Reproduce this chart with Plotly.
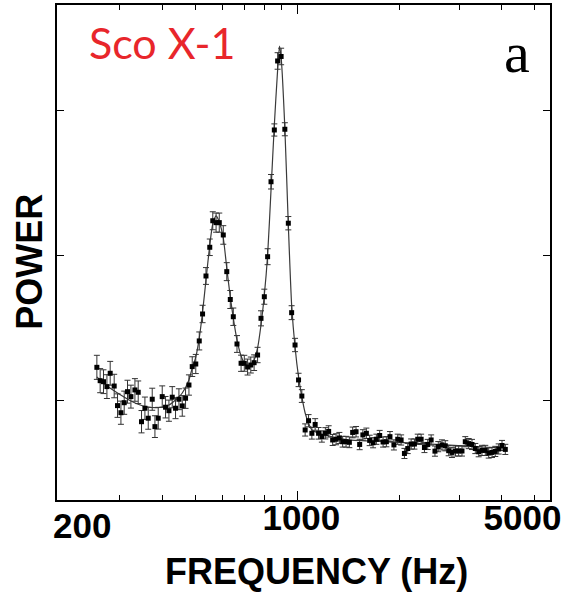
import math
import plotly.graph_objects as go

# ---- data ----
freq_hz = [256.5, 262.3, 268.3, 274.6, 280.8, 288.5, 295.1, 302.0, 308.8, 315.8,
           323.2, 332.1, 339.6, 347.3, 355.4, 363.5, 373.5, 380.4, 389.0, 399.7,
           408.8, 418.3, 427.8, 437.5, 447.7, 457.9, 468.3, 479.2, 490.0, 501.9,
           513.9, 525.6, 537.9, 551.9, 563.3, 576.1, 588.7, 604.9, 619.4, 634.4,
           647.5, 663.9, 682.6, 697.7, 713.4, 729.1, 745.7, 763.5, 781.4, 799.2,
           817.3, 836.4, 855.4, 874.7, 895.8, 918.6, 940.6, 962.0, 984.5, 1008.2,
           1031.0, 1054.4, 1079.0, 1103.5, 1128.5, 1154.9, 1181.0, 1209.4, 1236.8, 1270.8,
           1300.5, 1329.9, 1360.0, 1391.8, 1423.3, 1455.6, 1489.6, 1526.5, 1560.0, 1597.5,
           1633.7, 1671.8, 1709.7, 1748.5, 1789.3, 1829.8, 1874.9, 1926.0, 1976.4, 2022.6,
           2068.3, 2115.4, 2164.5, 2213.6, 2263.9, 2316.8, 2369.4, 2422.7, 2479.6, 2544.6,
           2602.3, 2668.4, 2728.9, 2792.7, 2855.8, 2924.6, 2988.9, 3056.7, 3126.0, 3199.0,
           3271.7, 3345.7, 3423.5, 3501.0, 3580.6, 3664.2, 3747.3, 3831.8, 3921.3, 4010.9,
           4101.6]

power = [1.232, 1.140, 1.133, 1.099, 1.191, 1.103, 0.968, 0.919, 0.988, 1.064,
         1.030, 1.076, 1.060, 0.857, 0.950, 0.881, 1.012, 0.823, 0.881, 1.030,
         0.957, 0.933, 1.026, 0.950, 1.012, 0.966, 1.019, 1.110, 1.237, 1.255,
         1.414, 1.600, 1.862, 2.060, 2.243, 2.230, 2.230, 2.145, 1.892, 1.700,
         1.581, 1.393, 1.260, 1.260, 1.234, 1.248, 1.264, 1.317, 1.570, 1.719,
         1.995, 2.512, 2.869, 3.345, 3.376, 2.874, 2.226, 1.609, 1.386, 1.145,
         1.034, 0.800, 0.864, 0.777, 0.838, 0.777, 0.755, 0.777, 0.790, 0.731,
         0.736, 0.745, 0.719, 0.719, 0.715, 0.783, 0.788, 0.700, 0.766, 0.777,
         0.728, 0.712, 0.736, 0.762, 0.717, 0.719, 0.754, 0.697, 0.736, 0.731,
         0.638, 0.672, 0.703, 0.703, 0.736, 0.736, 0.679, 0.700, 0.731, 0.654,
         0.685, 0.697, 0.691, 0.657, 0.645, 0.655, 0.655, 0.655, 0.719, 0.706,
         0.700, 0.672, 0.650, 0.659, 0.659, 0.641, 0.645, 0.652, 0.669, 0.693,
         0.666]

power_err = [0.083, 0.083, 0.082, 0.082, 0.082, 0.081, 0.081, 0.080, 0.080, 0.079,
             0.079, 0.078, 0.078, 0.077, 0.077, 0.076, 0.076, 0.075, 0.075, 0.074,
             0.074, 0.073, 0.073, 0.072, 0.072, 0.071, 0.070, 0.070, 0.068, 0.066,
             0.062, 0.060, 0.058, 0.057, 0.062, 0.066, 0.066, 0.064, 0.062, 0.062,
             0.060, 0.058, 0.056, 0.055, 0.055, 0.055, 0.054, 0.053, 0.052, 0.052,
             0.055, 0.050, 0.042, 0.057, 0.057, 0.045, 0.046, 0.048, 0.046, 0.046,
             0.044, 0.042, 0.042, 0.040, 0.040, 0.040, 0.039, 0.039, 0.039, 0.038,
             0.038, 0.038, 0.037, 0.037, 0.037, 0.037, 0.036, 0.036, 0.036, 0.036,
             0.036, 0.035, 0.035, 0.035, 0.035, 0.035, 0.035, 0.035, 0.035, 0.035,
             0.035, 0.035, 0.035, 0.035, 0.035, 0.035, 0.035, 0.035, 0.035, 0.035,
             0.035, 0.035, 0.035, 0.035, 0.035, 0.035, 0.035, 0.035, 0.035, 0.035,
             0.035, 0.035, 0.035, 0.035, 0.035, 0.035, 0.035, 0.035, 0.035, 0.035,
             0.035]

fit_freq_hz = [256.5, 274.6, 295.1, 323.2, 356.1, 391.7, 418.3, 437.5, 457.9, 479.2,
               490.0, 501.9, 513.9, 525.6, 537.9, 551.9, 563.3, 576.1, 588.7, 604.9,
               619.4, 634.4, 647.5, 663.9, 682.6, 697.7, 713.4, 729.1, 745.7, 763.5,
               781.4, 799.2, 817.3, 836.4, 855.4, 874.7, 886.0, 897.0, 918.6, 940.6,
               962.0, 984.5, 1008.2, 1031.0, 1054.4, 1079.0, 1103.5, 1181.0, 1391.8, 1748.5,
               2729.0, 4101.6]
fit_power = [1.166, 1.103, 1.055, 1.000, 0.962, 0.955, 0.972, 1.007, 1.055, 1.145,
             1.228, 1.303, 1.434, 1.614, 1.834, 2.076, 2.221, 2.276, 2.234, 2.124,
             1.917, 1.717, 1.572, 1.421, 1.310, 1.262, 1.241, 1.248, 1.283, 1.366,
             1.524, 1.731, 2.007, 2.455, 2.903, 3.283, 3.448, 3.352, 2.883, 2.214,
             1.662, 1.372, 1.166, 1.028, 0.917, 0.848, 0.800, 0.772, 0.734, 0.721,
             0.697, 0.674]

x_tick_vals = [200, 1000, 5000]
x_tick_text = ["200", "1000", "5000"]
x_tick_shift = [22, 4, -12]          # label offsets seen in the reference (px)
x_minor_vals = [300, 400, 500, 600, 700, 800, 900, 2000, 3000, 4000, 5000]
y_tick_vals = [1, 2, 3]
x_range_hz = [195.7, 5555]
y_range = [0.317, 3.731]

# ---- figure ----
fig = go.Figure()

fig.add_trace(go.Scatter(
    x=fit_freq_hz, y=fit_power, mode="lines",
    line=dict(color="#3a3a3a", width=1.2, shape="spline", smoothing=0.6),
    hoverinfo="skip", showlegend=False))

fig.add_trace(go.Scatter(
    x=freq_hz, y=power, mode="markers",
    marker=dict(symbol="square", size=5, color="black"),
    error_y=dict(type="data", array=power_err, color="#333333",
                 thickness=1, width=3),
    showlegend=False))

xr = [math.log10(v) for v in x_range_hz]

axis_font = dict(family="Liberation Sans, Arial, sans-serif", size=35,
                 color="black", weight="bold")
title_font = dict(family="Liberation Sans, Arial, sans-serif", size=36,
                  color="black", weight="bold")

layout_axes = {}
# one overlaid bottom axis per tick label so each label can sit where the reference shows it
for i, (tv, tt, sh) in enumerate(zip(x_tick_vals, x_tick_text, x_tick_shift)):
    name = "xaxis" if i == 0 else f"xaxis{i + 1}"
    ax = dict(
        type="log", range=xr, automargin=False, side="bottom",
        tickmode="array", tickvals=[tv], ticktext=[tt],
        ticklabelshift=sh, ticklabelstandoff=-6, ticklabeloverflow="allow",
        ticks="inside", ticklen=(9 if tv == 1000 else 0), tickwidth=1,
        tickcolor="black", showgrid=False, zeroline=False,
        tickfont=axis_font,
    )
    if i == 0:
        ax.update(
            showline=True, linecolor="black", linewidth=1.5, mirror="ticks",
            minor=dict(tickmode="array", tickvals=x_minor_vals, ticks="inside",
                       ticklen=5, tickwidth=1, tickcolor="black", showgrid=False),
        )
    else:
        ax.update(overlaying="x", showline=False, mirror="ticks")
        fig.add_trace(go.Scatter(x=[tv], y=[None], xaxis=f"x{i + 1}", yaxis="y",
                                 showlegend=False, hoverinfo="skip"))
    layout_axes[name] = ax

fig.update_layout(
    width=571, height=595,
    margin=dict(l=57, r=21, t=5, b=95),
    paper_bgcolor="white", plot_bgcolor="white",
    yaxis=dict(
        range=y_range, automargin=False,
        tickmode="array", tickvals=y_tick_vals,
        showticklabels=False,
        ticks="inside", ticklen=7, tickwidth=1, tickcolor="black",
        showline=True, linecolor="black", linewidth=1.5, mirror="ticks",
        showgrid=False, zeroline=False,
    ),
    annotations=[
        dict(text="FREQUENCY (Hz)", xref="paper", yref="paper", x=0.527, y=-0.145,
             xanchor="center", yanchor="middle", showarrow=False, font=title_font),
        dict(text="POWER", xref="paper", yref="paper", x=-0.055, y=0.481,
             xanchor="center", yanchor="middle", textangle=-90, showarrow=False,
             font=title_font),
        dict(text="Sco X-1", xref="paper", yref="paper", x=0.215, y=0.924,
             xanchor="center", yanchor="middle", showarrow=False,
             font=dict(family="Lato, sans-serif", size=43, color="#e8262b")),
        dict(text="a", xref="paper", yref="paper", x=0.934, y=0.905,
             xanchor="center", yanchor="middle", showarrow=False,
             font=dict(family="Liberation Serif, serif", size=58, color="black")),
    ],
    **layout_axes,
)

fig.write_html("out.html",
               config={"displayModeBar": False},
               post_script="document.body.style.margin='0px';"
                           "document.body.style.overflow='hidden';")
